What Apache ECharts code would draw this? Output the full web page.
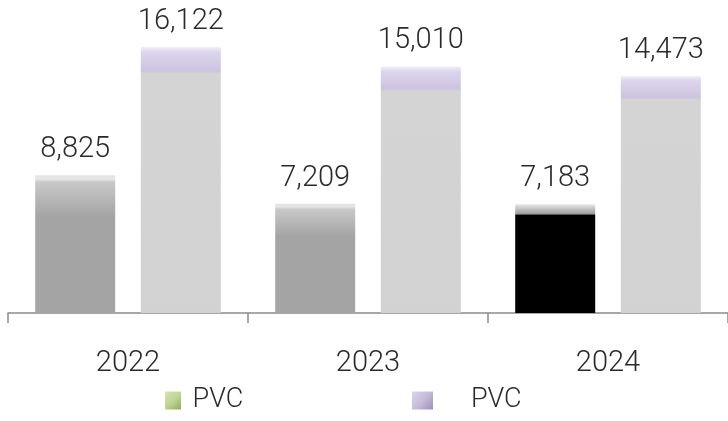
<!DOCTYPE html>
<html>
<head>
<meta charset="utf-8">
<script src="https://cdn.jsdelivr.net/npm/echarts@6/dist/echarts.min.js"></script>
<style>
html,body{margin:0;padding:0;background:#fff;}
#main{width:728px;height:421px;}
</style>
</head>
<body>
<div id="main"></div>
<script>
var categories = ['2022', '2023', '2024'];
var seriesA = [8825, 7209, 7183];
var seriesB = [16122, 15010, 14473];
var seriesNames = ['PVC', 'PVC'];

var FONT = 'Roboto, "Liberation Sans", sans-serif';

function grayBevel(base, light) {
  return {
    type: 'linear', x: 0, y: 0, x2: 0, y2: 1,
    colorStops: [
      {offset: 0, color: light},
      {offset: 0.03, color: light},
      {offset: 0.05, color: '#c8c8c8'},
      {offset: 0.3, color: base},
      {offset: 1, color: base}
    ]
  };
}
function lavBevel() {
  return {
    type: 'linear', x: 0, y: 0, x2: 0, y2: 1,
    colorStops: [
      {offset: 0, color: '#f2eef8'},
      {offset: 0.02, color: '#ddd5ec'},
      {offset: 0.09, color: '#cdc3e0'},
      {offset: 0.1, color: '#d4d4d4'},
      {offset: 1, color: '#d2d2d2'}
    ]
  };
}

var dataA = seriesA.map(function (v, i) {
  if (i === 2) {
    return {value: v, itemStyle: {color: {
      type: 'linear', x: 0, y: 0, x2: 0, y2: 1,
      colorStops: [
        {offset: 0, color: '#e8e8e8'},
        {offset: 0.09, color: '#9a9a9a'},
        {offset: 0.1, color: '#000000'},
        {offset: 1, color: '#000000'}
      ]}}};
  }
  return {value: v};
});

var labelStyle = {
  show: true, position: 'top', distance: 11, fontFamily: FONT, fontWeight: 300,
  fontSize: 29, color: '#2a2a2a',
  formatter: function (p) { return p.value.toLocaleString('en-US'); }
};

var chart = echarts.init(document.getElementById('main'), null, {renderer: 'canvas'});
chart.setOption({
  animation: false,
  grid: {left: 8, right: 0, top: 47, bottom: 108, containLabel: false},
  legend: [
    {
      left: 165, top: 387, padding: 0, itemWidth: 16, itemHeight: 18, itemGap: 10,
      icon: 'rect',
      data: [{name: 'A', itemStyle: {color: {
        type: 'linear', x: 0, y: 0, x2: 1, y2: 1,
        colorStops: [{offset: 0, color: '#d5e3b6'}, {offset: 0.5, color: '#c0d496'}, {offset: 1, color: '#93ad60'}]}}}],
      formatter: function () { return ' ' + seriesNames[0]; },
      textStyle: {fontFamily: FONT, fontWeight: 300, fontSize: 27, color: '#2a2a2a'}
    },
    {
      left: 412, top: 387, padding: 0, itemWidth: 21, itemHeight: 18, itemGap: 10,
      icon: 'rect',
      data: [{name: 'B', itemStyle: {color: {
        type: 'linear', x: 0, y: 0, x2: 1, y2: 1,
        colorStops: [{offset: 0, color: '#dcd5ea'}, {offset: 0.5, color: '#c6bcdb'}, {offset: 1, color: '#9d8fbc'}]}}}],
      formatter: function () { return '     ' + seriesNames[1]; },
      textStyle: {fontFamily: FONT, fontWeight: 300, fontSize: 27, color: '#2a2a2a'}
    }
  ],
  xAxis: {
    type: 'category',
    data: categories,
    axisLine: {show: true, lineStyle: {color: '#8a8a8a', width: 1.5}},
    axisTick: {show: true, length: 10, interval: 0, lineStyle: {color: '#8a8a8a', width: 1.5}},
    axisLabel: {margin: 36, fontFamily: FONT, fontWeight: 300, fontSize: 29, color: '#2a2a2a'}
  },
  yAxis: {type: 'value', show: false, min: 1000, max: 16122, splitLine: {show: false}},
  series: [
    {
      name: 'A', type: 'bar', data: dataA,
      barWidth: 80, barGap: '32%',
      itemStyle: {color: grayBevel('#a4a4a4', '#e4e4e4')},
      label: labelStyle
    },
    {
      name: 'B', type: 'bar', data: seriesB,
      barWidth: 80,
      itemStyle: {color: lavBevel()},
      label: labelStyle
    }
  ]
});
</script>
</body>
</html>
